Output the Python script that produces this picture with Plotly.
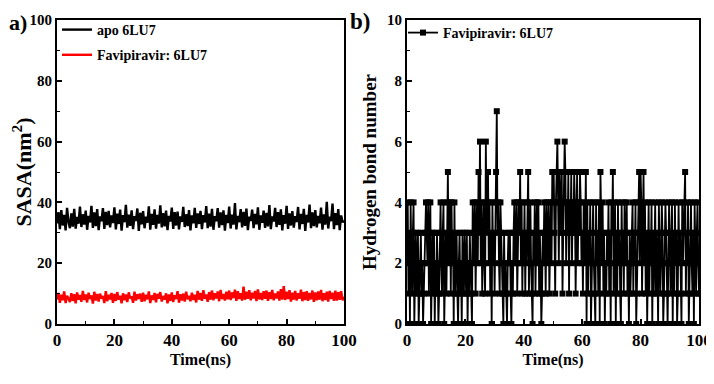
import plotly.graph_objects as go

# ---------------- data ----------------
sasa_time = [i * 0.5 for i in range(201)]
sasa_apo = [
    33.1, 36.8, 31.2, 37.5, 32.4, 35.9, 30.8, 38.2, 33.6, 31.5, 36.4, 32.0, 37.9, 31.4, 35.2, 33.0, 38.6, 31.9, 36.1, 32.7,
    37.3, 31.0, 35.6, 33.4, 38.9, 31.6, 36.7, 32.2, 37.8, 30.9, 35.4, 33.8, 38.1, 31.3, 36.9, 32.5, 37.2, 31.8, 35.7, 33.2,
    38.4, 31.1, 36.3, 32.9, 37.6, 30.7, 35.8, 33.5, 39.2, 31.7, 36.0, 32.3, 37.4, 31.2, 35.5, 33.9, 38.0, 30.6, 36.6, 32.8,
    37.1, 31.5, 35.3, 33.3, 38.7, 31.0, 36.2, 32.6, 37.7, 31.4, 35.9, 33.0, 39.0, 31.8, 36.5, 32.1, 37.3, 30.9, 35.6, 33.7,
    38.3, 31.3, 36.8, 32.4, 37.0, 31.1, 35.4, 33.6, 38.5, 31.9, 36.1, 32.2, 37.5, 30.8, 35.7, 33.1, 38.2, 31.6, 36.4, 32.9,
    37.2, 31.2, 35.8, 33.4, 38.8, 31.5, 36.3, 32.0, 37.9, 31.0, 35.5, 33.8, 38.1, 31.7, 36.7, 32.5, 37.4, 30.7, 35.9, 33.2,
    38.6, 31.4, 36.0, 32.7, 39.8, 31.1, 35.6, 33.5, 37.8, 31.8, 36.9, 32.3, 38.0, 30.9, 35.3, 33.9, 37.6, 31.5, 36.2, 32.8,
    38.4, 31.0, 35.7, 33.3, 37.3, 31.6, 36.6, 32.1, 39.1, 31.2, 35.4, 33.7, 38.2, 31.9, 36.8, 32.6, 37.7, 30.8, 35.8, 33.0,
    38.9, 31.3, 36.4, 32.4, 37.1, 31.7, 35.5, 33.6, 38.5, 31.1, 36.2, 32.9, 37.9, 30.6, 35.9, 33.4, 39.3, 31.5, 36.7, 32.2,
    37.5, 31.8, 35.6, 33.1, 38.3, 31.0, 36.1, 32.7, 40.2, 31.4, 35.3, 33.8, 39.6, 31.2, 36.5, 32.5, 37.8, 30.9, 35.7, 33.5,
    34.0,
]
sasa_fav = [
    8.1, 10.2, 7.0, 9.6, 7.8, 10.7, 6.9, 9.3, 8.4, 7.2, 10.1, 7.6, 9.8, 6.8, 10.4, 8.0, 9.5, 7.3, 10.9, 7.9,
    9.7, 7.1, 10.3, 8.2, 9.4, 6.7, 10.6, 7.7, 9.9, 7.4, 10.0, 8.3, 9.2, 6.9, 10.8, 7.5, 9.6, 8.1, 10.2, 7.0,
    9.9, 7.6, 10.5, 8.0, 9.3, 6.8, 10.1, 7.8, 9.7, 7.2, 10.4, 8.4, 9.1, 7.0, 10.6, 7.7, 9.8, 8.2, 10.0, 7.3,
    10.3, 7.5, 9.6, 8.1, 10.7, 6.9, 9.4, 7.9, 10.2, 7.1, 9.9, 8.3, 10.5, 7.4, 9.2, 8.0, 10.1, 6.8, 9.7, 7.6,
    10.4, 7.2, 9.5, 8.2, 10.8, 7.0, 9.8, 7.7, 10.0, 7.4, 10.6, 8.1, 9.3, 7.5, 10.3, 7.9, 9.6, 7.1, 10.9, 8.0,
    10.2, 7.6, 11.1, 8.3, 9.7, 7.3, 10.5, 8.0, 11.0, 7.8, 10.1, 8.4, 10.7, 7.5, 11.2, 8.2, 9.9, 7.7, 10.6, 8.1,
    11.0, 7.9, 10.4, 8.5, 11.3, 7.6, 10.8, 8.2, 10.1, 7.7, 12.3, 8.0, 10.6, 8.3, 11.1, 7.8, 10.3, 8.4, 10.9, 7.5,
    11.4, 8.1, 10.2, 7.9, 10.8, 8.3, 11.0, 7.6, 10.5, 8.2, 11.2, 7.8, 10.0, 8.4, 10.7, 7.7, 11.5, 8.0, 12.5, 7.9,
    10.6, 8.2, 11.1, 7.4, 10.3, 8.0, 10.9, 7.7, 10.1, 8.3, 11.3, 7.5, 10.5, 7.9, 10.8, 7.6, 10.2, 8.1, 11.0, 7.3,
    10.4, 7.8, 10.7, 8.0, 11.2, 7.5, 10.1, 7.9, 10.6, 7.4, 10.9, 8.2, 10.3, 7.6, 11.0, 7.7, 10.5, 8.0, 10.8, 7.8,
    9.0,
]

hb_time = [i * 0.25 for i in range(401)]
hb_count = [
    2, 4, 1, 3, 0, 4, 2, 1, 3, 4, 0, 2, 3, 1, 2, 3, 0, 1, 2, 3,
    1, 2, 0, 1, 2, 3, 4, 3, 2, 4, 1, 3, 4, 0, 2, 3, 1, 3, 0, 2,
    1, 3, 2, 0, 1, 3, 4, 2, 1, 3, 4, 0, 2, 3, 1, 4, 5, 2, 3, 4,
    1, 4, 2, 3, 0, 4, 1, 2, 3, 1, 0, 2, 3, 1, 2, 0, 3, 2, 1, 3,
    2, 1, 3, 0, 2, 1, 3, 2, 1, 0, 4, 3, 2, 4, 1, 3, 4, 2, 5, 3,
    6, 2, 4, 1, 3, 4, 2, 1, 6, 3, 4, 5, 2, 4, 1, 3, 0, 4, 2, 3,
    1, 4, 5, 7, 3, 4, 2, 1, 4, 3, 2, 1, 0, 3, 1, 2, 1, 0, 2, 3,
    2, 3, 1, 0, 2, 1, 3, 4, 2, 3, 4, 1, 2, 4, 3, 5, 2, 4, 1, 3,
    2, 4, 1, 3, 2, 4, 5, 1, 3, 4, 2, 1, 0, 3, 2, 4, 1, 3, 4, 2,
    4, 1, 3, 2, 0, 1, 3, 2, 4, 3, 1, 4, 2, 3, 4, 1, 3, 4, 2, 5,
    4, 5, 3, 1, 4, 5, 6, 4, 2, 5, 4, 3, 5, 1, 3, 4, 6, 5, 2, 4,
    3, 5, 1, 4, 3, 5, 2, 4, 3, 5, 4, 1, 3, 5, 2, 4, 3, 5, 4, 2,
    3, 1, 4, 2, 3, 5, 0, 4, 1, 3, 2, 4, 0, 1, 3, 4, 2, 1, 0, 4,
    2, 3, 1, 4, 0, 5, 3, 2, 4, 1, 3, 0, 2, 1, 3, 2, 4, 1, 3, 0,
    4, 3, 5, 1, 2, 4, 0, 3, 1, 4, 2, 3, 1, 0, 4, 2, 3, 1, 4, 2,
    3, 4, 1, 2, 0, 3, 1, 2, 3, 4, 1, 3, 2, 4, 0, 1, 3, 4, 5, 2,
    5, 4, 1, 3, 5, 2, 4, 1, 3, 0, 2, 4, 1, 3, 2, 4, 0, 3, 1, 2,
    4, 1, 3, 2, 0, 4, 3, 1, 2, 4, 3, 0, 1, 2, 4, 3, 1, 0, 2, 4,
    3, 1, 2, 4, 0, 3, 1, 4, 2, 3, 0, 1, 4, 2, 3, 1, 0, 4, 2, 3,
    4, 5, 1, 3, 2, 4, 0, 1, 3, 4, 2, 1, 3, 0, 4, 2, 1, 3, 4, 2,
    1,
]

# ---------------- figure ----------------
FONT = "Liberation Serif"
W, H = 706, 376          # page body has an 8px margin
fig = go.Figure()

fig.add_trace(go.Scatter(x=sasa_time, y=sasa_apo, mode="lines", name="<b>apo 6LU7</b>",
                         line=dict(color="black", width=2.4), xaxis="x", yaxis="y",
                         legend="legend", legendgroup="apo"))
fig.add_trace(go.Scatter(x=sasa_time, y=sasa_fav, mode="lines", name="<b>Favipiravir: 6LU7</b>",
                         line=dict(color="#ff0000", width=2.4), xaxis="x", yaxis="y",
                         legend="legend", legendgroup="fav"))
fig.add_trace(go.Scatter(x=hb_time, y=hb_count, mode="lines+markers", name="<b>Favipiravir: 6LU7</b>",
                         line=dict(color="black", width=1.8),
                         marker=dict(symbol="square", size=6, color="black"),
                         xaxis="x2", yaxis="y2", legend="legend2"))

ydom = [1 - 316 / H, 1 - 12 / H]

def xax(domain, anchor):
    return dict(domain=domain, anchor=anchor, range=[0, 100], dtick=20, tick0=0,
                automargin=False,
                showline=True, linecolor="black", linewidth=2, mirror=True,
                ticks="inside", ticklen=5, tickwidth=1.5, tickcolor="black",
                minor=dict(ticks="inside", ticklen=3, dtick=10, tickcolor="black", tickwidth=1.2),
                showgrid=False, zeroline=False,
                tickfont=dict(family=FONT, size=17, color="black", weight="bold"),
                title=dict(text="<b>Time(ns)</b>",
                           font=dict(family=FONT, size=16, color="black", weight="bold"),
                           standoff=4))

def yax(domain, anchor, rng, dt, title, size, standoff):
    return dict(domain=domain, anchor=anchor, range=rng, dtick=dt, tick0=0,
                automargin=False,
                showline=True, linecolor="black", linewidth=2, mirror=True,
                ticks="inside", ticklen=5, tickwidth=1.5, tickcolor="black",
                minor=dict(ticks="inside", ticklen=3, dtick=dt / 2, tickcolor="black", tickwidth=1.2),
                showgrid=False, zeroline=False,
                tickfont=dict(family=FONT, size=15, color="black", weight="bold"),
                title=dict(text=title, font=dict(family=FONT, size=size, color="black", weight="bold"),
                           standoff=standoff))

fig.update_layout(
    template="none",
    width=W, height=H,
    margin=dict(l=0, r=0, t=0, b=0, autoexpand=False),
    paper_bgcolor="white", plot_bgcolor="white",
    xaxis=xax([49 / W, 336 / W], "y"),
    yaxis=yax(ydom, "x", [0, 100], 20, "<b>SASA(nm<sup>2</sup>)</b>", 22, 6),
    xaxis2=xax([399 / W, 691 / W], "y2"),
    yaxis2=yax(ydom, "x2", [0, 10], 2, "<b>Hydrogen bond number</b>", 19, 5),
    legend=dict(x=49 / W, y=1 - 6 / H, xanchor="left", yanchor="top",
                bgcolor="rgba(0,0,0,0)", borderwidth=0,
                font=dict(family=FONT, size=14, color="black"),
                tracegroupgap=4, itemwidth=30),
    legend2=dict(x=395 / W, y=1 - 9 / H, xanchor="left", yanchor="top",
                 bgcolor="rgba(0,0,0,0)", borderwidth=0,
                 font=dict(family=FONT, size=14, color="black"),
                 itemwidth=30),
    showlegend=True,
    annotations=[
        dict(text="<b>a)</b>", x=0, y=1 - 1 / H, xref="paper", yref="paper",
             xanchor="left", yanchor="top", showarrow=False, borderpad=0,
             font=dict(family=FONT, size=22, color="black")),
        dict(text="<b>b)</b>", x=341 / W, y=1 - 0 / H, xref="paper", yref="paper",
             xanchor="left", yanchor="top", showarrow=False, borderpad=0,
             font=dict(family=FONT, size=23, color="black")),
    ],
)

fig.write_html("out.html")
